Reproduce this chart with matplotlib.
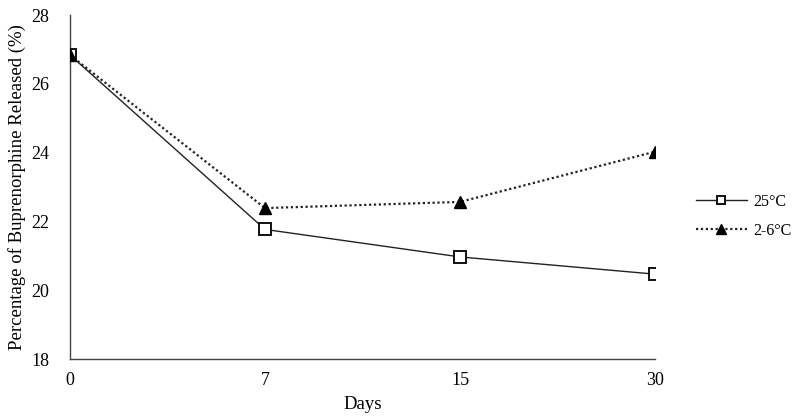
import numpy as np
import matplotlib
matplotlib.use("Agg")
import matplotlib.pyplot as plt

plt.rcParams['font.family'] = ['Liberation Serif', 'DejaVu Serif']

# Data
days = ["0", "7", "15", "30"]
release_25 = [26.84, 21.77, 20.97, 20.47]
release_2_6 = [26.84, 22.39, 22.57, 24.03]
y_ticks = [18, 20, 22, 24, 26, 28]

fig = plt.figure(figsize=(7.95, 4.2), dpi=100)
ax = fig.add_axes([0.088, 0.145, 0.736, 0.819])

x = np.arange(len(days))
ax.plot(x, release_25, color="#222222", linewidth=1.0, linestyle="-",
        marker="s", markersize=8, markerfacecolor="white",
        markeredgecolor="#111111", markeredgewidth=1.4, label="25°C", zorder=3)
ax.plot(x, release_2_6, color="#222222", linewidth=1.6, linestyle=(0, (1, 1.2)),
        marker="^", markersize=8.5, markerfacecolor="black",
        markeredgecolor="black", label="2-6°C", zorder=4)

ax.set_xlim(0, len(days) - 1)
ax.set_ylim(18, 28)
ax.set_xticks(x)
ax.set_xticklabels(days)
ax.set_yticks(y_ticks)
ax.tick_params(axis="both", length=0, labelsize=13)
ax.tick_params(axis="x", pad=9)
ax.tick_params(axis="y", pad=15)

for side in ["top", "right"]:
    ax.spines[side].set_visible(False)
for side in ["left", "bottom"]:
    ax.spines[side].set_color("#444444")
    ax.spines[side].set_linewidth(1.0)

ax.set_xlabel("Days", fontsize=13.5, labelpad=5)
ax.set_ylabel("Percentage of Buprenorphine Released (%)", fontsize=13.5, labelpad=4)

ax.legend(loc="center left", bbox_to_anchor=(1.045, 0.415), frameon=False,
          fontsize=11.5, handlelength=3.2, handletextpad=0.4, labelspacing=0.8,
          markerscale=0.8)

fig.savefig("out.png", dpi=100)
